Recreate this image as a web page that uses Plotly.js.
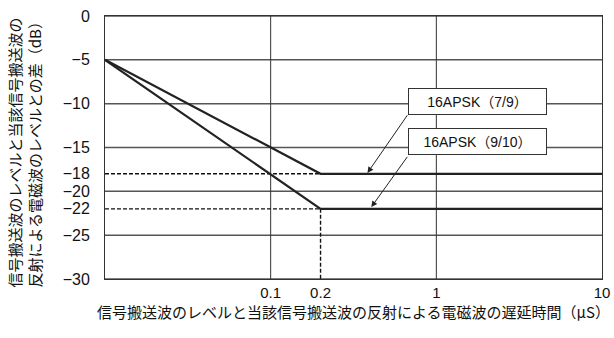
<!DOCTYPE html>
<html><head><meta charset="utf-8">
<script src="https://cdn.plot.ly/plotly-3.0.1.min.js"></script>
<style>html,body{margin:0;padding:0;background:#fff}</style>
</head><body><div id="chart" style="width:614px;height:338px"></div>
<script>
const delay = [0.01, 0.2, 10];
const apsk79 = [-5, -18, -18];
const apsk910 = [-5, -22, -22];
const xLimits = [0.01, 10];
const yLimits = [-30, 0];
const yTickVals = [0, -5, -10, -15, -18, -20, -22, -25, -30];
const yGridVals = [0, -5, -10, -15, -20, -25, -30];
const xTickVals = [0.1, 0.2, 1, 10];
const xTickText = ['0.1', '0.2', '1', '10'];
const xGridVals = [0.1, 1];
const cornerX = 0.2;
const label79 = '16APSK（7/9）';
const label910 = '16APSK（9/10）';
const xTitle = '信号搬送波のレベルと当該信号搬送波の反射による電磁波の遅延時間（μS）';
const yTitle1 = '信号搬送波のレベルと当該信号搬送波の';
const yTitle2 = '反射による電磁波のレベルとの差（dB）';

const FONT = 'Liberation Sans, Arial, Noto Sans CJK JP, sans-serif';
const JFONT = 'Noto Sans CJK JP, sans-serif';

const traces = [];
yGridVals.forEach(v => traces.push({x: xLimits, y: [v, v], mode: 'lines', line: {color: '#555555', width: 1.5}, hoverinfo: 'skip'}));
xGridVals.forEach(v => traces.push({x: [v, v], y: yLimits, mode: 'lines', line: {color: '#333', width: 1}, hoverinfo: 'skip'}));
traces.push(
  {x: [xLimits[0], cornerX], y: [apsk79[1], apsk79[1]], mode: 'lines', line: {color: '#111', width: 1.4, dash: '4px,2px'}, hoverinfo: 'skip'},
  {x: [xLimits[0], cornerX], y: [apsk910[1], apsk910[1]], mode: 'lines', line: {color: '#111', width: 1.4, dash: '4px,2px'}, hoverinfo: 'skip'},
  {x: [cornerX, cornerX], y: [apsk910[1], yLimits[0]], mode: 'lines', line: {color: '#111', width: 1.4, dash: '4px,2px'}, hoverinfo: 'skip'},
  {x: delay, y: apsk79, mode: 'lines', line: {color: '#222', width: 2.2}, name: label79},
  {x: delay, y: apsk910, mode: 'lines', line: {color: '#222', width: 2.2}, name: label910}
);

const layout = {
  width: 614, height: 338,
  margin: {l: 104.5, r: 11.5, t: 15.5, b: 58.5},
  showlegend: false,
  paper_bgcolor: '#fff', plot_bgcolor: '#fff',
  font: {family: FONT, size: 15, color: '#111'},
  xaxis: {type: 'log', range: [Math.log10(xLimits[0]), Math.log10(xLimits[1])], tickvals: xTickVals, ticktext: xTickText, showgrid: false,
          zeroline: false, showline: true, mirror: true, linecolor: '#333', linewidth: 1, ticks: '',
          tickfont: {size: 15, family: FONT},
          title: {text: xTitle, font: {size: 15, family: JFONT}, standoff: 5}},
  yaxis: {range: yLimits, tickvals: yTickVals, showgrid: false, zeroline: false, showline: true, mirror: true,
          linecolor: '#333', linewidth: 1, ticks: '', ticklabelstandoff: 11, tickfont: {size: 16, family: FONT}},
  annotations: [
    {xref: 'paper', yref: 'paper', x: -0.162, y: 0.49, xanchor: 'center', yanchor: 'middle', textangle: -90,
     align: 'left', showarrow: false, text: yTitle1 + '<br>' + yTitle2, font: {size: 15, family: JFONT, color: '#111'}},
    {x: Math.log10(1.78), y: -9.7, xref: 'x', yref: 'y', text: label79, showarrow: false, bgcolor: '#fff',
     bordercolor: '#333', borderwidth: 1, width: 133, height: 21, borderpad: 2, font: {size: 14, family: FONT}},
    {x: Math.log10(1.78), y: -14.35, xref: 'x', yref: 'y', text: label910, showarrow: false, bgcolor: '#fff',
     bordercolor: '#333', borderwidth: 1, width: 133, height: 21, borderpad: 2, font: {size: 14, family: FONT}},
    {x: Math.log10(0.384), y: -17.9, ax: Math.log10(0.678), ay: -11.15, xref: 'x', yref: 'y', axref: 'x', ayref: 'y',
     text: '', showarrow: true, arrowhead: 2, arrowsize: 1.2, arrowwidth: 1, arrowcolor: '#222', standoff: 0},
    {x: Math.log10(0.405), y: -21.8, ax: Math.log10(0.678), ay: -15.9, xref: 'x', yref: 'y', axref: 'x', ayref: 'y',
     text: '', showarrow: true, arrowhead: 2, arrowsize: 1.2, arrowwidth: 1, arrowcolor: '#222', standoff: 0}
  ]
};

Plotly.newPlot('chart', traces, layout, {staticPlot: true, displayModeBar: false});
</script></body></html>
